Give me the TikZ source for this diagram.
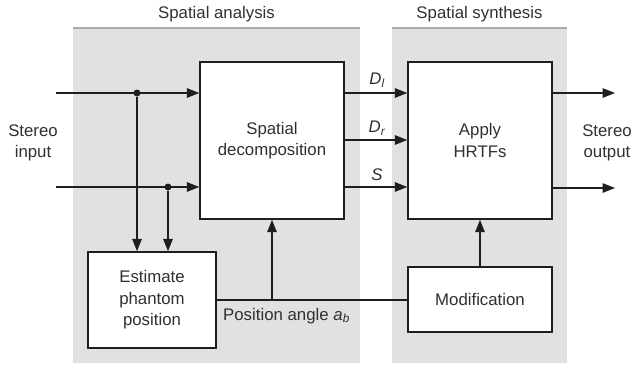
\documentclass[tikz,border=0pt]{standalone}
\usepackage{fontspec}
\setmainfont{Liberation Sans}
\usetikzlibrary{arrows.meta}
\definecolor{panelgray}{HTML}{E0E1E3}
\definecolor{panelrule}{HTML}{A9AAAD}
\definecolor{ink}{HTML}{1E1E1E}
\definecolor{txt}{HTML}{303030}
\begin{document}
\begin{tikzpicture}[x=1pt,y=-1pt,
  font=\fontsize{16.8}{21.5}\selectfont,
  every node/.style={text=txt},
  block/.style={draw=ink,line width=1.4pt,fill=white,align=center,inner sep=0pt},
  flow/.style={draw=ink,line width=1.4pt,-{Triangle[length=12.5pt,width=9.5pt]}},
  wire/.style={draw=ink,line width=1.4pt},
  junction/.style={circle,fill=ink,inner sep=0pt,minimum size=7pt},
  caption/.style={align=center,inner sep=0pt}]
\useasboundingbox (0,0) rectangle (633,368);

% background panels
\fill[panelgray] (73,28) rectangle (360,363);
\fill[panelgray] (392,28) rectangle (567,363);
\draw[panelrule,line width=1.6pt] (73,28) -- (360,28);
\draw[panelrule,line width=1.6pt] (392,28) -- (567,28);
\node[caption] (tana) at (216.5,14) {Spatial analysis};
\node[caption] (tsyn) at (479.5,14) {Spatial synthesis};

% blocks
\node[block,minimum width=144pt,minimum height=157pt] (dec) at (272,140.5) {Spatial\\decomposition};
\node[block,minimum width=144pt,minimum height=157pt] (hrtf) at (480,140.5) {Apply\\HRTFs};
\node[block,minimum width=128pt,minimum height=96pt] (est) at (152,300) {Estimate\\phantom\\position};
\node[block,minimum width=144pt,minimum height=65pt] (mod) at (480,299.5) {Modification};

% stereo input
\node[caption] (sin) at (33,143) {Stereo\\input};
\coordinate (inL) at (56,93);
\coordinate (inR) at (56,187);
\node[junction] (jL) at (137,93) {};
\node[junction] (jR) at (168,187) {};
\draw[flow] (inL) -- (dec.west |- inL);
\draw[flow] (inR) -- (dec.west |- inR);
\draw[flow] (jL) -- (est.north -| jL);
\draw[flow] (jR) -- (est.north -| jR);

% decomposed signals
\coordinate (dl) at (344,93);
\coordinate (dr) at (344,140);
\coordinate (ds) at (344,187);
\draw[flow] (dl) -- (hrtf.west |- dl);
\draw[flow] (dr) -- (hrtf.west |- dr);
\draw[flow] (ds) -- (hrtf.west |- ds);
\node[caption] (ldl) at (377,80) {\itshape D\textsubscript{l}};
\node[caption] (ldr) at (377,128) {\itshape D\textsubscript{r}};
\node[caption] (lds) at (377,175) {\itshape S};

% stereo output
\coordinate (outL) at (615,93);
\coordinate (outR) at (615,188);
\draw[flow] (hrtf.east |- outL) -- (outL);
\draw[flow] (hrtf.east |- outR) -- (outR);
\node[caption] (sout) at (607,143) {Stereo\\output};

% position angle path
\coordinate (tap) at (272,300);
\draw[wire] (est.east |- tap) -- (mod.west |- tap);
\draw[flow] (tap) -- (dec.south);
\draw[flow] (mod.north) -- (hrtf.south);
\node[anchor=west,inner sep=0pt] (pang) at (223,316) {Position angle \textit{a}\textsubscript{\textit{b}}};
\end{tikzpicture}
\end{document}
